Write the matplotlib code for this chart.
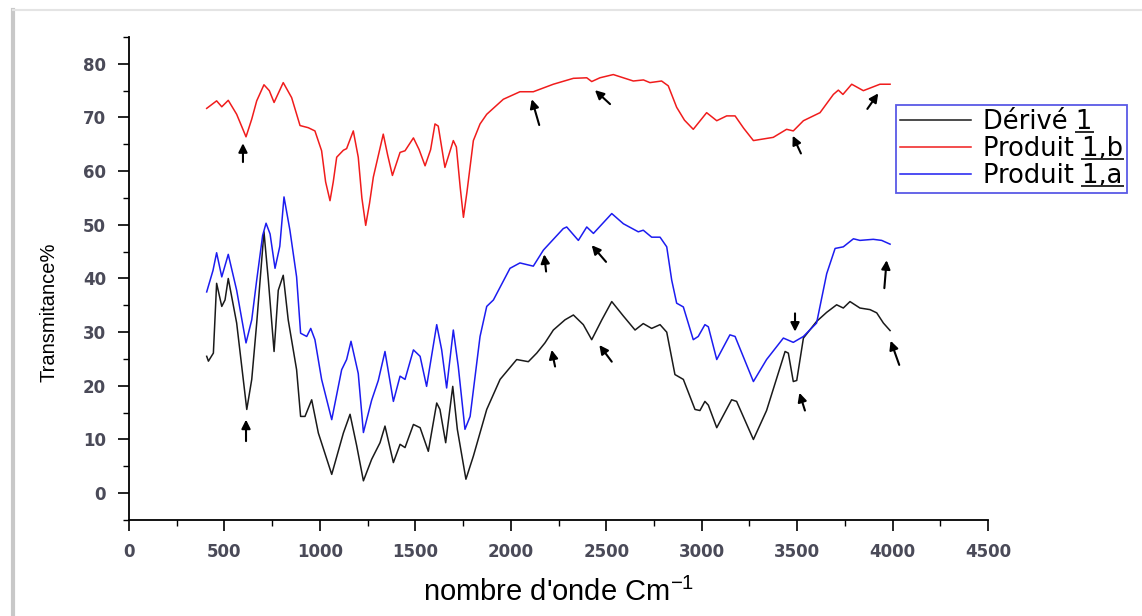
import matplotlib
matplotlib.use("Agg")
import matplotlib.pyplot as plt
from matplotlib.ticker import MultipleLocator
from matplotlib.lines import Line2D
from matplotlib.transforms import IdentityTransform

plt.rcParams['font.family'] = ['DejaVu Sans']
plt.rcParams['mathtext.fontset'] = 'custom'
plt.rcParams['mathtext.rm'] = 'Liberation Sans'

# ---- data (wavenumber cm-1, transmittance %) ----
red_x = [407, 459, 486, 520, 564, 613, 643, 669, 707, 735, 760, 808, 852, 896, 939, 974, 1009, 1030,
         1053, 1070, 1088, 1123, 1140, 1175, 1201, 1220, 1240, 1260, 1280, 1332, 1355, 1380, 1420, 1446,
         1490, 1520, 1551, 1580, 1603, 1620, 1655, 1699, 1715, 1735, 1752, 1770, 1804, 1839, 1874, 1961,
         2048, 2118, 2223, 2328, 2398, 2424, 2467, 2537, 2642, 2695, 2729, 2790, 2825, 2869, 2910, 2956,
         3026, 3079, 3131, 3175, 3220, 3271, 3375, 3445, 3480, 3533, 3620, 3690, 3716, 3740, 3786, 3847,
         3934, 3987]
red_y = [71.7, 73.1, 72.0, 73.2, 70.6, 66.4, 69.7, 73.1, 76.1, 75.0, 72.8, 76.5, 73.7, 68.5, 68.1, 67.5,
         63.8, 58.0, 54.5, 58.0, 62.6, 63.9, 64.2, 67.5, 62.6, 55.0, 49.9, 54.0, 58.9, 66.9, 63.0, 59.2,
         63.5, 63.8, 66.2, 64.0, 61.0, 64.0, 68.8, 68.4, 60.7, 65.7, 64.5, 57.0, 51.4, 56.0, 65.7, 68.8,
         70.6, 73.4, 74.8, 74.8, 76.2, 77.3, 77.4, 76.7, 77.4, 78.0, 76.8, 77.0, 76.5, 76.8, 75.9, 71.9,
         69.5, 67.8, 70.9, 69.4, 70.3, 70.3, 68.0, 65.7, 66.3, 67.8, 67.5, 69.4, 70.9, 74.3, 75.1, 74.3,
         76.2, 75.0, 76.2, 76.2]

blue_x = [407, 440, 459, 486, 520, 564, 613, 643, 669, 700, 718, 739, 765, 790, 812, 843, 878, 899, 931,
          952, 974, 1009, 1062, 1114, 1140, 1163, 1201, 1228, 1271, 1306, 1341, 1385, 1420, 1446, 1490,
          1525, 1559, 1612, 1638, 1664, 1699, 1725, 1760, 1787, 1839, 1874, 1909, 1996, 2048, 2118, 2171,
          2275, 2293, 2354, 2398, 2433, 2529, 2590, 2668, 2694, 2738, 2782, 2817, 2843, 2869, 2904, 2956,
          2982, 3017, 3035, 3079, 3148, 3175, 3271, 3340, 3428, 3480, 3533, 3602, 3655, 3699, 3742, 3795,
          3829, 3899, 3943, 3987]
blue_y = [37.5, 41.5, 44.8, 40.3, 44.5, 37.8, 28.0, 32.3, 39.7, 48.0, 50.3, 48.3, 41.9, 46.0, 55.2, 49.0,
          40.3, 29.8, 29.2, 30.7, 28.6, 21.2, 13.7, 23.0, 24.9, 28.3, 22.3, 11.3, 17.3, 21.0, 26.4, 17.1,
          21.8, 21.2, 26.7, 25.5, 19.9, 31.4, 26.7, 19.6, 30.4, 23.6, 11.9, 14.3, 29.2, 34.8, 36.0, 41.9,
          42.9, 42.3, 45.3, 49.3, 49.6, 47.1, 49.6, 48.4, 52.1, 50.2, 48.7, 49.0, 47.7, 47.7, 45.9, 39.7,
          35.4, 34.7, 28.6, 29.2, 31.4, 31.0, 24.9, 29.5, 29.2, 20.8, 24.9, 28.9, 28.1, 29.2, 31.7, 40.9,
          45.6, 45.9, 47.4, 47.1, 47.3, 47.1, 46.4]

black_x = [407, 416, 442, 459, 486, 503, 520, 564, 617, 643, 669, 707, 730, 760, 782, 808, 834, 878, 899,
           922, 957, 992, 1062, 1123, 1158, 1193, 1228, 1271, 1315, 1341, 1385, 1420, 1446, 1490, 1525,
           1568, 1612, 1629, 1659, 1696, 1720, 1765, 1804, 1874, 1944, 2031, 2092, 2136, 2179, 2223, 2284,
           2328, 2380, 2424, 2477, 2529, 2590, 2651, 2694, 2738, 2782, 2817, 2860, 2904, 2965, 2991, 3017,
           3035, 3079, 3157, 3183, 3271, 3340, 3437, 3454, 3480, 3498, 3533, 3602, 3655, 3707, 3742, 3777,
           3829, 3882, 3917, 3952, 3987]
black_y = [25.5, 24.6, 26.1, 39.1, 34.8, 36.0, 40.0, 31.7, 15.6, 21.2, 31.7, 48.7, 39.7, 26.4, 37.8, 40.6,
           32.3, 23.0, 14.3, 14.3, 17.4, 11.2, 3.5, 11.2, 14.7, 8.8, 2.3, 6.3, 9.4, 12.5, 5.7, 9.1, 8.5,
           12.8, 12.2, 7.8, 16.8, 15.6, 9.4, 19.9, 11.9, 2.6, 6.9, 15.6, 21.2, 24.9, 24.5, 26.1, 28.0, 30.4,
           32.3, 33.2, 31.4, 28.6, 32.3, 35.7, 33.0, 30.4, 31.6, 30.7, 31.4, 30.0, 22.1, 21.2, 15.6, 15.4,
           17.1, 16.4, 12.2, 17.4, 17.1, 10.0, 15.4, 26.4, 26.1, 20.8, 21.0, 28.9, 32.0, 33.7, 35.1, 34.5,
           35.7, 34.5, 34.2, 33.6, 31.7, 30.3]

# arrow markers: head (x, y) and tail (x, y)
arrow_head_x = [597, 2110, 2441, 3477, 3925, 613, 2175, 2424, 2214, 2464, 3489, 3512, 3969, 3990]
arrow_head_y = [65.2, 73.4, 75.1, 66.6, 74.5, 13.7, 44.5, 46.2, 26.7, 27.6, 30.1, 18.7, 43.4, 28.4]
arrow_tail_x = [597, 2149, 2520, 3520, 3868, 613, 2185, 2499, 2232, 2529, 3489, 3541, 3957, 4035]
arrow_tail_y = [61.7, 68.6, 72.5, 63.3, 71.6, 9.7, 41.3, 43.1, 23.6, 24.5, 33.5, 15.4, 38.2, 23.9]

label_prefix = ["Dérivé ", "Produit ", "Produit "]
label_underlined = ["1", "1,b", "1,a"]

W, H = 1142, 616
fig = plt.figure(figsize=(W / 100, H / 100), dpi=100)
ax = fig.add_axes([129 / W, 1 - 520 / H, (988 - 129) / W, (520 - 37) / H])

l_black, = ax.plot(black_x, black_y, color='#1a1a1a', lw=1.1)
l_red, = ax.plot(red_x, red_y, color='#f01c1c', lw=1.1)
l_blue, = ax.plot(blue_x, blue_y, color='#1c1cf0', lw=1.1)

for hx, hy, tx, ty in zip(arrow_head_x, arrow_head_y, arrow_tail_x, arrow_tail_y):
    ax.annotate('', xy=(hx, hy), xytext=(tx, ty),
                arrowprops=dict(arrowstyle='-|>', color='black', lw=1.5,
                                mutation_scale=13, shrinkA=0, shrinkB=0))

ax.set_xlim(0, 4500)
ax.set_ylim(-5, 85)
ax.xaxis.set_major_locator(MultipleLocator(500))
ax.xaxis.set_minor_locator(MultipleLocator(250))
ax.yaxis.set_minor_locator(MultipleLocator(5))
ax.set_yticks(range(0, 81, 10))
for s in ['top', 'right']:
    ax.spines[s].set_visible(False)
for s in ['left', 'bottom']:
    ax.spines[s].set_linewidth(1.3)
ax.tick_params(which='major', direction='out', length=8, width=1.2, pad=8.5,
               labelsize=12, labelcolor='#4a4a58')
ax.tick_params(which='minor', direction='out', length=4.5, width=1.0)
for lab in ax.get_xticklabels() + ax.get_yticklabels():
    lab.set_fontweight('bold')

ax.set_xlabel(r"nombre d'onde Cm$^{-1}$", fontsize=21, family='Liberation Sans', labelpad=12)
ax.set_ylabel("Transmitance%", fontsize=14.5, family='Liberation Sans')
ax.yaxis.set_label_coords(-0.082, 0.43)

labels = [p + u for p, u in zip(label_prefix, label_underlined)]
leg = fig.legend([l_black, l_red, l_blue], labels, loc='upper left',
                 bbox_to_anchor=(896 / W, 1 - 105 / H), bbox_transform=fig.transFigure,
                 fontsize=18.5, frameon=True, fancybox=False, handlelength=2.75,
                 labelspacing=0.05, borderpad=0.15, handletextpad=0.5, borderaxespad=0)
leg.get_frame().set_edgecolor('#3030e0')
leg.get_frame().set_linewidth(1.3)

# underline the compound numbers in the legend
fig.canvas.draw()
renderer = fig.canvas.get_renderer()
for txt, suffix in zip(leg.get_texts(), label_underlined):
    bb = txt.get_window_extent(renderer)
    prop = txt.get_fontproperties()
    w_s, _, _ = renderer.get_text_width_height_descent(suffix, prop, ismath=False)
    _, _, d_lp = renderer.get_text_width_height_descent("lp", prop, ismath=False)
    yl = bb.y0 + d_lp - 3
    fig.add_artist(Line2D([bb.x1 - w_s, bb.x1], [yl, yl], transform=IdentityTransform(),
                          color='#2a2a2a', lw=1.4, zorder=20))

# light frame like the screenshot border
fig.add_artist(Line2D([13 / W, 13 / W], [0, 1 - 10 / H], transform=fig.transFigure,
                      color='#c8c8c8', lw=3))
fig.add_artist(Line2D([13 / W, 1], [1 - 10 / H, 1 - 10 / H], transform=fig.transFigure,
                      color='#e4e4e4', lw=1.5))

fig.savefig('out.png', dpi=100)
